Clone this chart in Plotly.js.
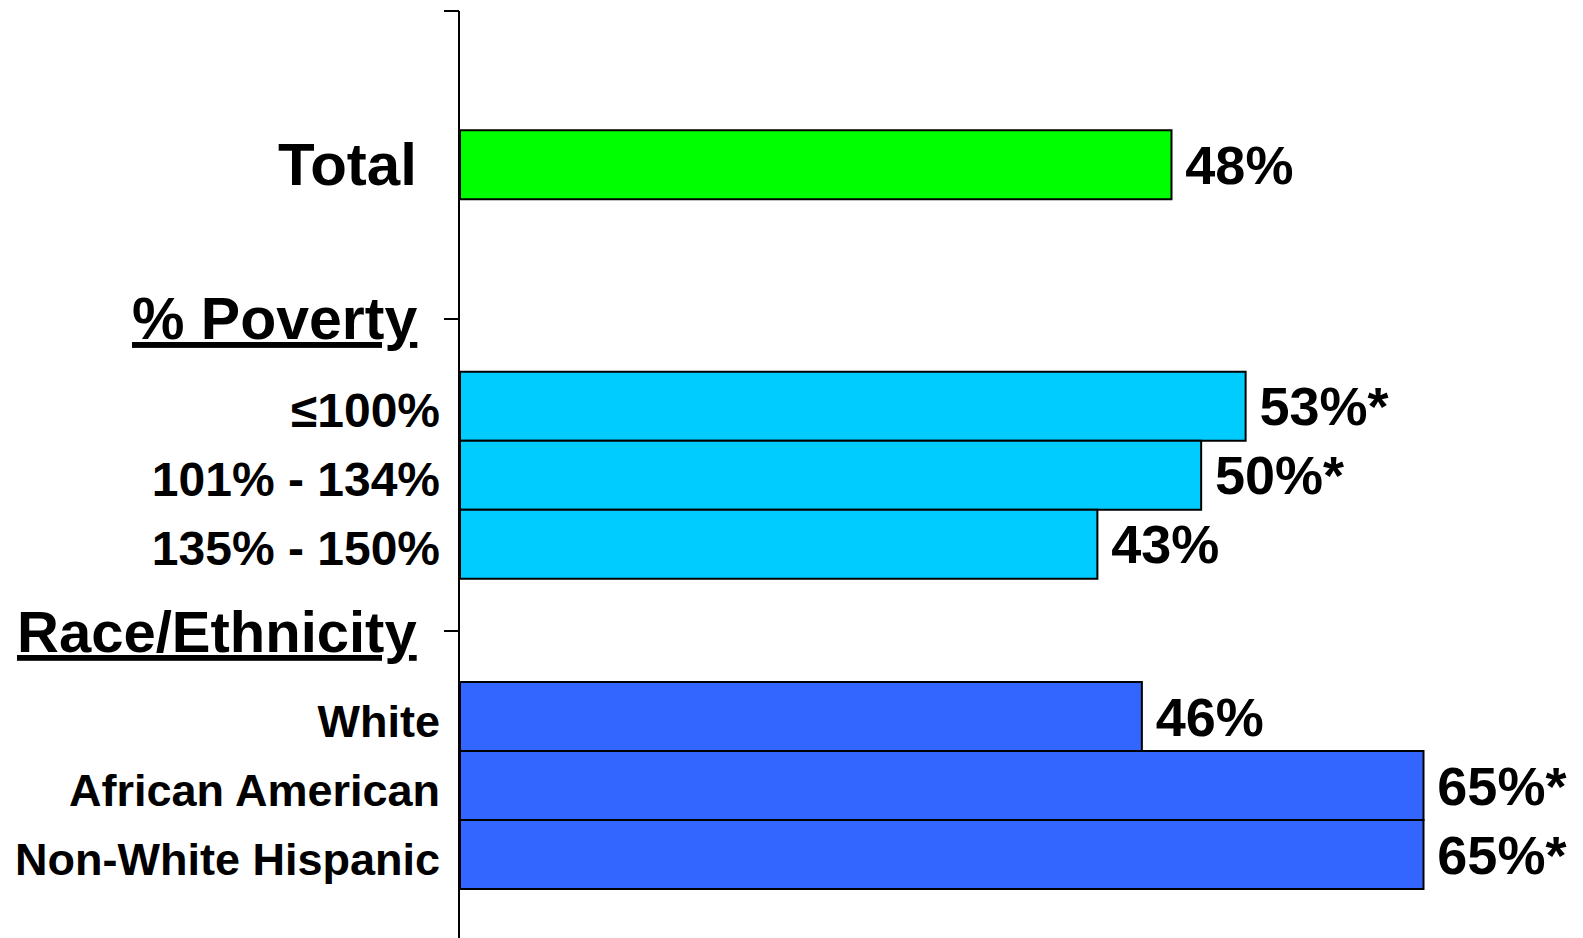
<!DOCTYPE html>
<html>
<head>
<meta charset="utf-8">
<script src="https://cdn.plot.ly/plotly-3.0.1.min.js"></script>
<style>html,body{margin:0;padding:0;background:#fff;}#chart{width:1583px;height:938px;}</style>
</head>
<body>
<div id="chart"></div>
<script>
// ---- data ----
const totalLabel = ["Total"];
const totalValues = [48];
const totalText = ["48%"];

const povertyHeader = "% Poverty";
const povertyLabels = ["≤100%", "101% - 134%", "135% - 150%"];
const povertyValues = [53, 50, 43];
const povertyText = ["53%*", "50%*", "43%"];

const raceHeader = "Race/Ethnicity";
const raceLabels = ["White", "African American", "Non-White Hispanic"];
const raceValues = [46, 65, 65];
const raceText = ["46%", "65%*", "65%*"];

// ---- layout positions (group offsets on a numeric category scale) ----
const totalStart = 0, povertyStart = 3.5, raceStart = 8;
const pos = (start, arr) => arr.map((_, i) => start + i);
const totalPos = pos(totalStart, totalLabel);
const povPos = pos(povertyStart, povertyLabels);
const racePos = pos(raceStart, raceLabels);
const sepTop = -2.23, sepPoverty = 2.23, sepRace = 6.76;
const yRange = [11.21, sepTop];

const FONT = "Liberation Sans, Arial, sans-serif";

function barTrace(y, x, text, color) {
  return {
    type: "bar", orientation: "h", y: y, x: x, width: 1,
    text: text, texttemplate: "\u2009%{text}", textposition: "outside",
    cliponaxis: false, constraintext: "none",
    outsidetextfont: {family: FONT, size: 54, color: "#000", weight: "bold"},
    marker: {color: color, line: {color: "#000", width: 2}},
    hoverinfo: "skip", showlegend: false
  };
}

const data = [
  barTrace(totalPos, totalValues, totalText, "#00FF00"),
  barTrace(povPos, povertyValues, povertyText, "#00CCFF"),
  barTrace(racePos, raceValues, raceText, "#3366FF"),
  // invisible trace to activate the separator-tick axis
  {type: "scatter", x: [0], y: [sepTop], yaxis: "y2", mode: "markers",
   marker: {opacity: 0}, hoverinfo: "skip", showlegend: false}
];

const W = 1583, L = 460, R = 0;
const plotW = W - L - R;
const pxPerUnit = 14.823;

const povTick = povertyLabels.map(s => '<span style="font-size:48px">' + s + '</span>');

const layout = {
  width: 1583, height: 938,
  margin: {l: L, r: R, t: 11, b: 0, autoexpand: false},
  paper_bgcolor: "#fff", plot_bgcolor: "#fff",
  bargap: 0,
  xaxis: {range: [0, plotW / pxPerUnit], visible: false, fixedrange: true},
  yaxis: {
    range: yRange, showgrid: false, zeroline: false,
    showline: true, linecolor: "#000", linewidth: 2,
    ticks: "", tickmode: "array",
    tickvals: povPos.concat(racePos),
    ticktext: povTick.concat(raceLabels),
    tickfont: {family: FONT, size: 45, color: "#000", weight: "bold"},
    ticklabelstandoff: 9, ticklabelshift: -5, automargin: false
  },
  yaxis2: {
    overlaying: "y", range: yRange, showgrid: false, zeroline: false,
    showline: false, ticks: "outside", ticklen: 15, tickwidth: 2, tickcolor: "#000",
    tickmode: "array", tickvals: [sepTop, sepPoverty, sepRace],
    showticklabels: false, automargin: false
  },
  annotations: [
    {text: totalLabel[0], y: totalPos[0], size: 60},
    {text: "<u>" + povertyHeader + "</u>", y: sepPoverty, size: 59},
    {text: "<u>" + raceHeader + "</u>", y: sepRace, size: 58}
  ].map(a => ({
    text: a.text, xref: "paper", yref: "y", x: (419 - L) / plotW, y: a.y,
    xanchor: "right", yanchor: "middle", showarrow: false,
    font: {family: FONT, size: a.size, color: "#000", weight: "bold"}
  }))
};

Plotly.newPlot("chart", data, layout, {displayModeBar: false, staticPlot: true});
</script>
</body>
</html>
